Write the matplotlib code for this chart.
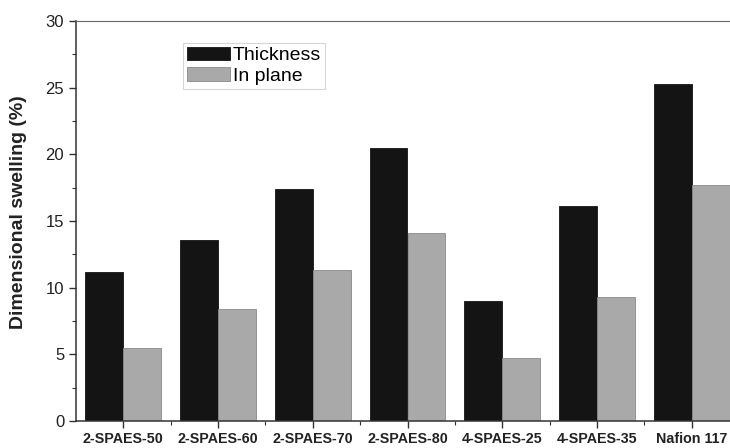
import matplotlib
matplotlib.use("Agg")
import matplotlib.pyplot as plt
import numpy as np
from matplotlib.ticker import MultipleLocator, FixedLocator

plt.rcParams['font.family'] = ['Liberation Sans', 'DejaVu Sans']

categories = ["2-SPAES-50", "2-SPAES-60", "2-SPAES-70", "2-SPAES-80",
              "4-SPAES-25", "4-SPAES-35", "Nafion 117"]
thickness = [11.2, 13.6, 17.4, 20.5, 9.0, 16.15, 25.3]
in_plane = [5.5, 8.4, 11.3, 14.1, 4.75, 9.3, 17.7]
yticks = [0, 5, 10, 15, 20, 25, 30]

W, H = 730, 448
fig = plt.figure(figsize=(W / 100, H / 100), dpi=100)
ax = fig.add_axes([76 / W, 27 / H, (739 - 76) / W, 400 / H])

x = np.arange(len(categories))
bw = 0.4
ax.bar(x - bw / 2, thickness, width=bw, color='#141414', edgecolor='#141414',
       linewidth=0.6, label='Thickness')
ax.bar(x + bw / 2, in_plane, width=bw, color='#a9a9a9', edgecolor='#8a8a8a',
       linewidth=0.6, label='In plane')

ax.set_xlim(-0.5, 6.5)
ax.set_ylim(0, 30)
ax.set_yticks(yticks)
ax.yaxis.set_minor_locator(MultipleLocator(2.5))
ax.set_xticks(x)
ax.set_xticklabels(categories, fontsize=10.3, fontweight='bold', color='#222')
ax.xaxis.set_minor_locator(FixedLocator(x[:-1] + 0.5))
ax.tick_params(axis='y', labelsize=12, labelcolor='#222')
ax.tick_params(which='major', direction='out', length=5, width=1, color='#333')
ax.tick_params(which='minor', direction='out', length=3, width=0.8, color='#333')
ax.tick_params(axis='x', pad=3)

ax.spines['right'].set_visible(False)
ax.spines['top'].set_linewidth(0.8)
ax.spines['top'].set_color('#666')
ax.spines['left'].set_linewidth(1.1)
ax.spines['left'].set_color('#333')
ax.spines['bottom'].set_linewidth(1.1)
ax.spines['bottom'].set_color('#333')

ax.set_ylabel('Dimensional swelling (%)', fontsize=14, fontweight='bold',
              color='#222')
ax.yaxis.set_label_coords((27 - 76) / 663, (421 - 212) / 400)

leg = ax.legend(loc='upper left', bbox_to_anchor=(183 / W, 1 - 43 / H),
                bbox_transform=fig.transFigure, fontsize=14, frameon=True,
                fancybox=False, handlelength=2.2, handleheight=0.7,
                handletextpad=0.15, borderpad=0.2, labelspacing=0.15,
                borderaxespad=0)
leg.get_frame().set_edgecolor('#cccccc')
leg.get_frame().set_linewidth(0.8)

fig.savefig('out.png', dpi=100)
